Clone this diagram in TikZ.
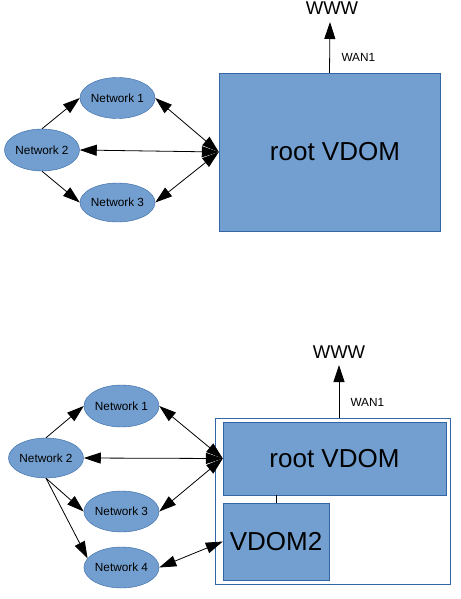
\documentclass[tikz,border=0pt]{standalone}
\usepackage{fontspec}
\setmainfont{Liberation Sans}
\usetikzlibrary{arrows.meta,shapes.geometric,positioning}
\definecolor{vdomfill}{HTML}{729FCF}
\definecolor{vdomline}{HTML}{3465A4}

\begin{document}
\begin{tikzpicture}[x=1pt,y=-1pt,
    net/.style={ellipse,draw=vdomline,fill=vdomfill,inner sep=0pt,
      minimum width=71pt,minimum height=41pt,font=\fontsize{11.8}{12}\selectfont},
    vdom/.style={draw=vdomline,fill=vdomfill,inner sep=0pt,
      font=\fontsize{26}{28}\selectfont},
    arr/.style={line width=0.8pt,-{Triangle[length=17pt,width=11pt]}},
    dbl/.style={line width=0.8pt,{Triangle[length=17pt,width=11pt]}-{Triangle[length=17pt,width=11pt]}}]
  \useasboundingbox (0,0) rectangle (460,599);

  % top: one VDOM
  \node[vdom,minimum width=221pt,minimum height=158pt] (root) at (329.5,152) {\hspace*{11pt}root VDOM};
  \node[net] (n1) at (117.5,98) {Network 1};
  \node[net,minimum width=72pt,minimum height=42pt] (n2) at (42,150) {Network 2};
  \node[net,minimum height=39pt] (n3) at (117.5,202.5) {Network 3};
  \node[font=\fontsize{18.5}{20}\selectfont] (www) at (332,8) {WWW};
  \coordinate (wan) at (330,22);
  \node[anchor=west,font=\fontsize{11.8}{12}\selectfont] at (338,57) {WAN1};
  \draw[arr] (root.north) -- (wan);
  \draw[arr] (n2.north) -- (n1.west);
  \draw[arr] (n2.south) -- (n3.west);
  \draw[dbl] (n1.east) -- (root.west);
  \draw[dbl] (n2.east) -- (root.west);
  \draw[dbl] (n3.east) -- (root.west);

  % bottom: root VDOM plus VDOM2
  \node[draw=vdomline,fill=white,line width=0.8pt,minimum width=235pt,minimum height=166pt] (fgt) at (332.5,501) {};
  \node[vdom,minimum width=223pt,minimum height=73pt] (rootb) at (334.5,458.5) {root VDOM};
  \node[vdom,minimum width=106pt,minimum height=77pt] (vdom2) at (276,541.5) {VDOM2};
  \node[net,minimum height=42pt] (m1) at (121.5,406) {Network 1};
  \node[net,minimum width=72pt,minimum height=40pt] (m2) at (46,458) {Network 2};
  \node[net] (m3) at (121.5,511.5) {Network 3};
  \node[net] (m4) at (121.5,567.5) {Network 4};
  \node[font=\fontsize{18.5}{20}\selectfont] (wwwb) at (339,352) {WWW};
  \coordinate (wanb) at (339,365);
  \coordinate (wanfoot) at (339,418);
  \node[anchor=west,font=\fontsize{11.8}{12}\selectfont] at (347,402) {WAN1};
  \draw[arr] (wanfoot) -- (wanb);
  \draw[line width=0.8pt] (vdom2.north) -- (vdom2.north |- rootb.south);
  \draw[arr] (m2.north) -- (m1.west);
  \draw[arr] (m2.south) -- (m3.west);
  \draw[arr] (m2.south) -- (m4.165);
  \draw[dbl] (m1.east) -- (rootb.west);
  \draw[dbl] (m2.east) -- (rootb.west);
  \draw[dbl] (m3.east) -- (rootb.west);
  \draw[dbl] (m4.east) -- (vdom2.west);
\end{tikzpicture}
\end{document}
